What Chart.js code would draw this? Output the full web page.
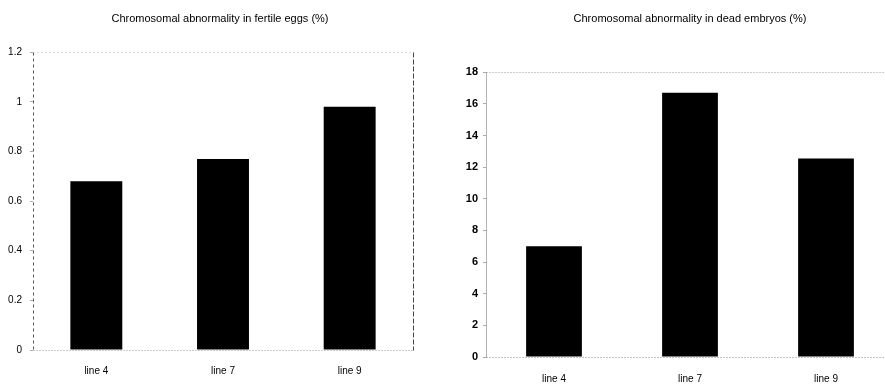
<!DOCTYPE html>
<html><head><meta charset="utf-8">
<script src="https://cdn.jsdelivr.net/npm/chart.js@4"></script>
<style>
html,body{margin:0;padding:0;width:885px;height:389px;overflow:hidden;background:#fff}
#eggsBox{position:absolute;left:0;top:0;width:440px;height:389px}
#embryoBox{position:absolute;left:440px;top:0;width:500px;height:389px}
canvas{display:block}
</style></head><body>
<div id="eggsBox"><canvas id="eggs" width="440" height="389"></canvas></div>
<div id="embryoBox"><canvas id="embryos" width="500" height="389"></canvas></div>
<script>
// Categories and values
const lines = ['line 4', 'line 7', 'line 9'];
const fertileEggsPct = [0.68, 0.77, 0.98];
const deadEmbryosPct = [7.0, 16.7, 12.55];

// Y-axis tick values
const eggsTicks = [0, 0.2, 0.4, 0.6, 0.8, 1, 1.2];
const embryoTicks = [0, 2, 4, 6, 8, 10, 12, 14, 16, 18];

const FONT = '"Liberation Sans", Arial, sans-serif';

// Draws the dashed / dotted frame around the plot area
const plotFrame = {
  id: 'plotFrame',
  afterDatasetsDraw(chart, args, opts) {
    const { left, right, top, bottom } = chart.chartArea;
    const ctx = chart.ctx;
    const sides = {
      left: [left, top, left, bottom],
      right: [right, top, right, bottom],
      top: [left, top, right, top],
      bottom: [left, bottom, right, bottom]
    };
    for (const name of Object.keys(sides)) {
      const st = opts[name];
      if (!st) continue;
      const [x1, y1, x2, y2] = sides[name];
      ctx.save();
      ctx.strokeStyle = st.color;
      ctx.lineWidth = 1;
      ctx.setLineDash(st.dash);
      ctx.beginPath();
      ctx.moveTo(Math.round(x1) + 0.5, Math.round(y1) + 0.5);
      ctx.lineTo(Math.round(x2) + 0.5, Math.round(y2) + 0.5);
      ctx.stroke();
      ctx.restore();
    }
  }
};

function makeChart(id, title, values, ticks, g) {
  const lo = ticks[0], hi = ticks[ticks.length - 1];
  const fixedTicks = s => { s.ticks = ticks.map(v => ({ value: v })); };
  return new Chart(document.getElementById(id), {
    type: 'bar',
    plugins: [plotFrame],
    data: {
      labels: lines,
      datasets: [{ data: values, backgroundColor: '#000', borderWidth: 0,
                   barPercentage: 1, categoryPercentage: 0.41 }]
    },
    options: {
      responsive: false,
      animation: false,
      devicePixelRatio: 1,
      layout: { padding: 0 },
      plugins: {
        legend: { display: false },
        tooltip: { enabled: false },
        title: {
          display: true, text: title, color: '#000',
          font: { family: FONT, size: 11, weight: 'normal' },
          padding: { top: 12, bottom: g.titleGap }
        },
        plotFrame: g.frame
      },
      scales: {
        x: {
          type: 'category', position: 'bottom',
          afterFit: s => { s.height = g.xHeight; },
          grid: { display: false, drawTicks: false },
          border: { display: false },
          ticks: { color: '#000', padding: g.xPad, font: { family: FONT, size: 10 } }
        },
        y: {
          type: 'linear', position: 'left', min: lo, max: hi,
          afterBuildTicks: fixedTicks,
          afterFit: s => { s.width = g.yWidth; },
          grid: { display: true, drawOnChartArea: false, drawTicks: true,
                  tickLength: 3, color: '#aaa' },
          border: { display: false },
          ticks: { color: '#000', padding: g.yPad,
                   callback: v => String(v),
                   font: { family: FONT, size: g.yFont, weight: g.yWeight } }
        },
        // empty margin axis on the right so the title stays centred on the canvas
        yMargin: {
          type: 'linear', position: 'right', min: lo, max: hi,
          afterFit: s => { s.width = g.padRight; },
          grid: { display: false, drawTicks: false },
          border: { display: false },
          ticks: { display: false }
        }
      }
    }
  });
}

makeChart('eggs', 'Chromosomal abnormality in fertile eggs (%)', fertileEggsPct, eggsTicks,
  { padRight: 27, titleGap: 27, xHeight: 39, xPad: 15,
    yWidth: 33, yPad: 8, yFont: 10, yWeight: 'normal',
    frame: {
      left: { color: '#555', dash: [3, 3] },
      top: { color: '#bbb', dash: [1, 3] },
      right: { color: '#444', dash: [5, 2] },
      bottom: { color: '#999', dash: [1, 2] }
    } });

makeChart('embryos', 'Chromosomal abnormality in dead embryos (%)', deadEmbryosPct, embryoTicks,
  { padRight: 46, titleGap: 47, xHeight: 32, xPad: 16,
    yWidth: 46, yPad: 5, yFont: 11, yWeight: 'bold',
    frame: {
      left: { color: '#666', dash: [1, 1] },
      top: { color: '#999', dash: [1, 2] },
      bottom: { color: '#888', dash: [1, 2] }
    } });
</script>
</body></html>
